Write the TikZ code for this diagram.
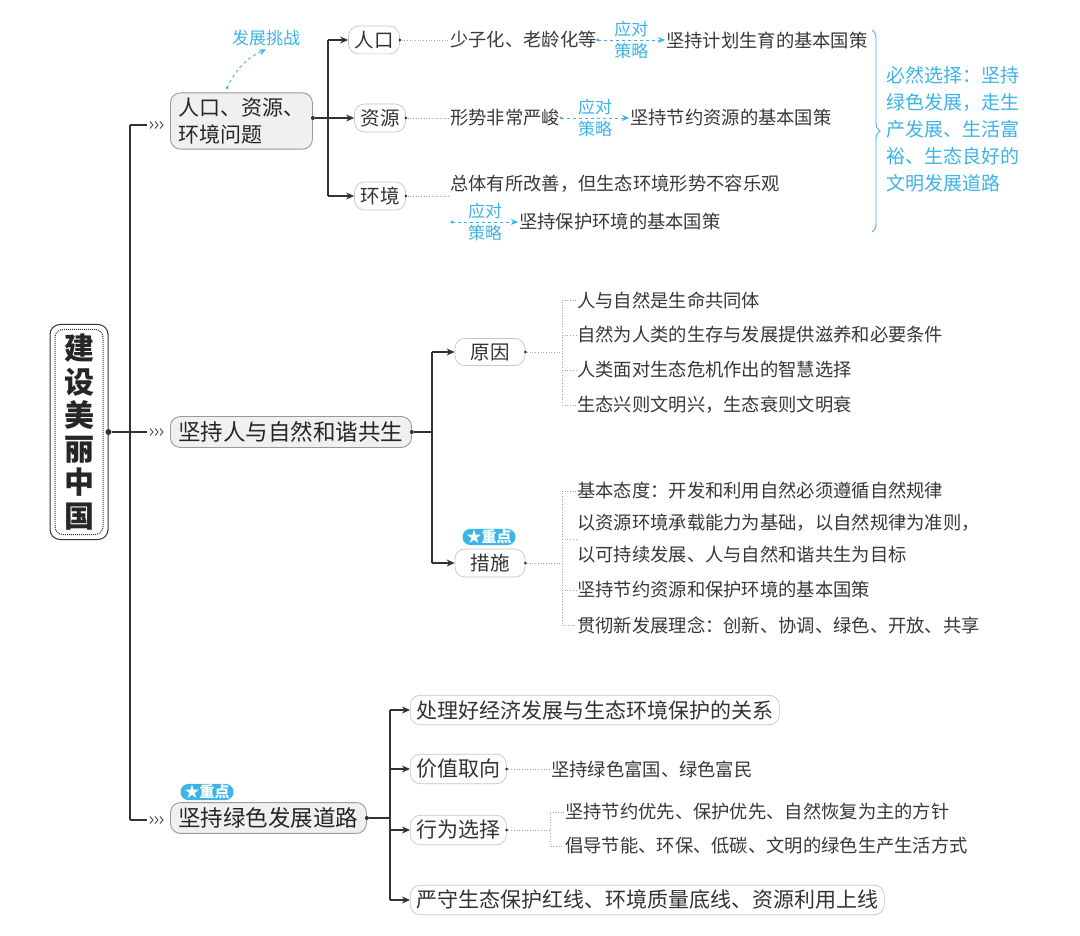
\documentclass[tikz,border=0pt]{standalone}
\usepackage{fontspec}
\setmainfont{Noto Sans CJK SC}
\usetikzlibrary{arrows.meta,decorations.pathreplacing}
\definecolor{hb}{HTML}{3DB4E6}
\definecolor{ln}{HTML}{333333}
\begin{document}
\begin{tikzpicture}[x=1pt,y=-1pt,
  main/.style={draw=gray!80,fill=gray!12,rounded corners=10pt,line width=0.9pt,inner xsep=8pt,inner ysep=5pt,font=\fontsize{22.5}{27}\selectfont,text=black!85,anchor=west},
  sub/.style={draw=gray!45,fill=white,rounded corners=10pt,line width=0.7pt,inner xsep=6pt,inner ysep=5pt,font=\fontsize{19.5}{22}\selectfont,text=black!80},
  subw/.style={sub,anchor=west,font=\fontsize{21}{23}\selectfont},
  item/.style={anchor=west,inner sep=1pt,font=\fontsize{18.3}{32}\selectfont,text=black!78},
  hand/.style={text=hb,font=\fontsize{17}{18}\selectfont\itshape},
  conn/.style={draw=ln,line width=1.1pt},
  arr/.style={conn,-{Stealth[length=8pt,width=7pt]}},
  dots/.style={draw=gray!70,dotted,line width=0.7pt},
  bdash/.style={draw=hb,dashed,line width=0.9pt,-{Stealth[length=7pt,width=6pt]}},
  badge/.style={fill=hb,text=white,rounded corners=8pt,inner xsep=4pt,inner ysep=1pt,font=\fontsize{15}{16}\selectfont\bfseries},
  dot/.style={circle,fill=ln,inner sep=0pt,minimum size=4pt}]
\useasboundingbox (0,0) rectangle (1080,936);
\fill[white] (0,0) rectangle (1080,936);
% root
\node[draw=ln,line width=1pt,rounded corners=10pt,minimum width=58pt,minimum height=215pt,fill=white] (root) at (79,432) {};
\node[draw=ln,densely dotted,line width=1pt,rounded corners=8pt,minimum width=48pt,minimum height=205pt] (rooti) at (79,432) {};
\node[font=\fontsize{30}{33.5}\selectfont\bfseries,text=black!85,align=center] (roott) at (79,432) {建\\设\\美\\丽\\中\\国};
\node[dot,minimum size=6pt] (rd) at (root.east) {};
\coordinate (tA) at (130,125);
\coordinate (tB) at (130,432);
\coordinate (tC) at (130,820);
\draw[conn] (rd) -- (tB);
\draw[conn] (tA) -- (tC);
% chevrons
\foreach \y/\n in {125/A,432/B,820/C}{
  \coordinate (e\n) at (147,\y);
  \foreach \dx in {150,155,160}{\draw[ln,line width=0.8pt] (\dx,\y-3.5) -- (\dx+3,\y) -- (\dx,\y+3.5);}
}
\draw[conn] (tA) -- (eA);
\draw[conn] (tB) -- (eB);
\draw[conn] (tC) -- (eC);
% main nodes
\node[main,align=left,font=\fontsize{21}{27}\selectfont] (A) at (170,121) {人口、资源、\\环境问题};
\node[main] (B) at (170,432) {坚持人与自然和谐共生};
\node[main] (C) at (170,818) {坚持绿色发展道路};
\node[badge] (bC) at (207,792) {★重点};
% A branch
\node[dot] (Ad) at (A.east |- 0,118) {};
\coordinate (Ab1) at (328,40); \coordinate (Ab3) at (328,196);
\node[sub] (p1) at (374,40) {人口};
\node[sub] (p2) at (380,118) {资源};
\node[sub] (p3) at (380,196) {环境};
\draw[conn] (Ab1) -- (Ab3);
\draw[arr] (Ab1) -- (p1.west);
\draw[arr] (Ad) -- (p2.west);
\draw[arr] (Ab3) -- (p3.west);
\node[item] (p1a) at (449,40) {少子化、老龄化等};
\node[item] (p1b) at (665,40) {坚持计划生育的基本国策};
\node[item] (p2a) at (449,118) {形势非常严峻};
\node[item] (p2b) at (629,118) {坚持节约资源的基本国策};
\node[item] (p3a) at (449,184) {总体有所改善，但生态环境形势不容乐观};
\node[item] (p3b) at (518,222) {坚持保护环境的基本国策};
\foreach \s/\t in {p1/p1a,p2/p2a,p3/p3a}{\node[dot,minimum size=3pt] (\s d) at (\s.east) {}; \draw[dots] (\s d) -- (\t.west|-\s d);}
\coordinate (s3) at (452,222);
\draw[bdash] (p1a.east) -- node[hand,above=-1pt]{应对} node[hand,below=-1pt]{策略} (p1b.west);
\draw[bdash] (p2a.east) -- node[hand,above=-1pt]{应对} node[hand,below=-1pt]{策略} (p2b.west);
\draw[bdash] (s3) -- node[hand,above=-1pt]{应对} node[hand,below=-1pt]{策略} (p3b.west);
\fill[hb] (p1a.east) circle (1.6pt) (p2a.east) circle (1.6pt) (s3) circle (1.6pt);
\node[hand] (chal) at (266,38) {发展挑战};
\draw[bdash] (227,88) to[bend left=20] (chal.south);
\fill[hb] (227,88) circle (1.5pt);
\coordinate (br1) at (872,30); \coordinate (br2) at (872,232);
\draw[hb,line width=0.9pt,decorate,decoration={brace,amplitude=8pt}] (br1) -- (br2);
\node[hand,anchor=west,align=left,font=\fontsize{19}{27}\selectfont\itshape] (conc) at (883,129) {必然选择：坚持\\绿色发展，走生\\产发展、生活富\\裕、生态良好的\\文明发展道路};
% B branch
\node[dot] (Bd) at (B.east) {};
\coordinate (Bb1) at (432,352); \coordinate (Bb2) at (432,563);
\node[sub,minimum width=70pt] (r1) at (490,352) {原因};
\node[sub,minimum width=70pt] (r2) at (490,563) {措施};
\node[badge] (bR) at (489,537) {★重点};
\draw[conn] (Bd) -- (432,432);
\draw[conn] (Bb1) -- (Bb2);
\draw[arr] (Bb1) -- (r1.west);
\draw[arr] (Bb2) -- (r2.west);
\node[dot,minimum size=3pt] (r1d) at (r1.east) {};
\node[dot,minimum size=3pt] (r2d) at (r2.east) {};
\coordinate (rb1) at (562,352); \coordinate (rb2) at (562,563);
\draw[dots] (r1d) -- (rb1); \draw[dots] (r2d) -- (rb2);
\node[item] (a1) at (576,300) {人与自然是生命共同体};
\node[item] (a2) at (576,335) {自然为人类的生存与发展提供滋养和必要条件};
\node[item] (a3) at (576,370) {人类面对生态危机作出的智慧选择};
\node[item] (a4) at (576,405) {生态兴则文明兴，生态衰则文明衰};
\draw[dots] (a1.west) -| (562,405) -- (a4.west);
\foreach \n in {a2,a3}{\draw[dots] (562,0 |- \n.west) -- (\n.west);}
\node[item] (m1) at (576,491) {基本态度：开发和利用自然必须遵循自然规律};
\node[item,align=left] (m2) at (576,539) {以资源环境承载能力为基础，以自然规律为准则，\\以可持续发展、人与自然和谐共生为目标};
\node[item] (m3) at (576,590) {坚持节约资源和保护环境的基本国策};
\node[item] (m4) at (576,625) {贯彻新发展理念：创新、协调、绿色、开放、共享};
\draw[dots] (m1.west) -| (562,625) -- (m4.west);
\foreach \n in {m2,m3}{\draw[dots] (562,0 |- \n.west) -- (\n.west);}
% C branch
\node[dot] (Cd) at (C.east) {};
\coordinate (Cb1) at (390,710); \coordinate (Cb4) at (390,900);
\node[subw] (g1) at (410,710) {处理好经济发展与生态环境保护的关系};
\node[subw] (g2) at (410,769) {价值取向};
\node[subw] (g3) at (410,830) {行为选择};
\node[subw] (g4) at (410,900) {严守生态保护红线、环境质量底线、资源利用上线};
\draw[conn] (Cb1) -- (Cb4);
\draw[conn] (Cd) -- (Cd -| Cb1);
\draw[arr] (Cb1) -- (g1.west);
\draw[arr] (390,769) -- (g2.west);
\draw[arr] (390,830) -- (g3.west);
\draw[arr] (Cb4) -- (g4.west);
\node[dot,minimum size=3pt] (g2d) at (g2.east) {};
\node[dot,minimum size=3pt] (g3d) at (g3.east) {};
\node[item] (v1) at (550,769) {坚持绿色富国、绿色富民};
\draw[dots] (g2d) -- (v1.west);
\node[item] (w1) at (564,812) {坚持节约优先、保护优先、自然恢复为主的方针};
\node[item] (w2) at (564,846) {倡导节能、环保、低碳、文明的绿色生产生活方式};
\draw[dots] (g3d) -- (550,830);
\draw[dots] (w1.west) -| (550,846) -- (w2.west);
\end{tikzpicture}
\end{document}
